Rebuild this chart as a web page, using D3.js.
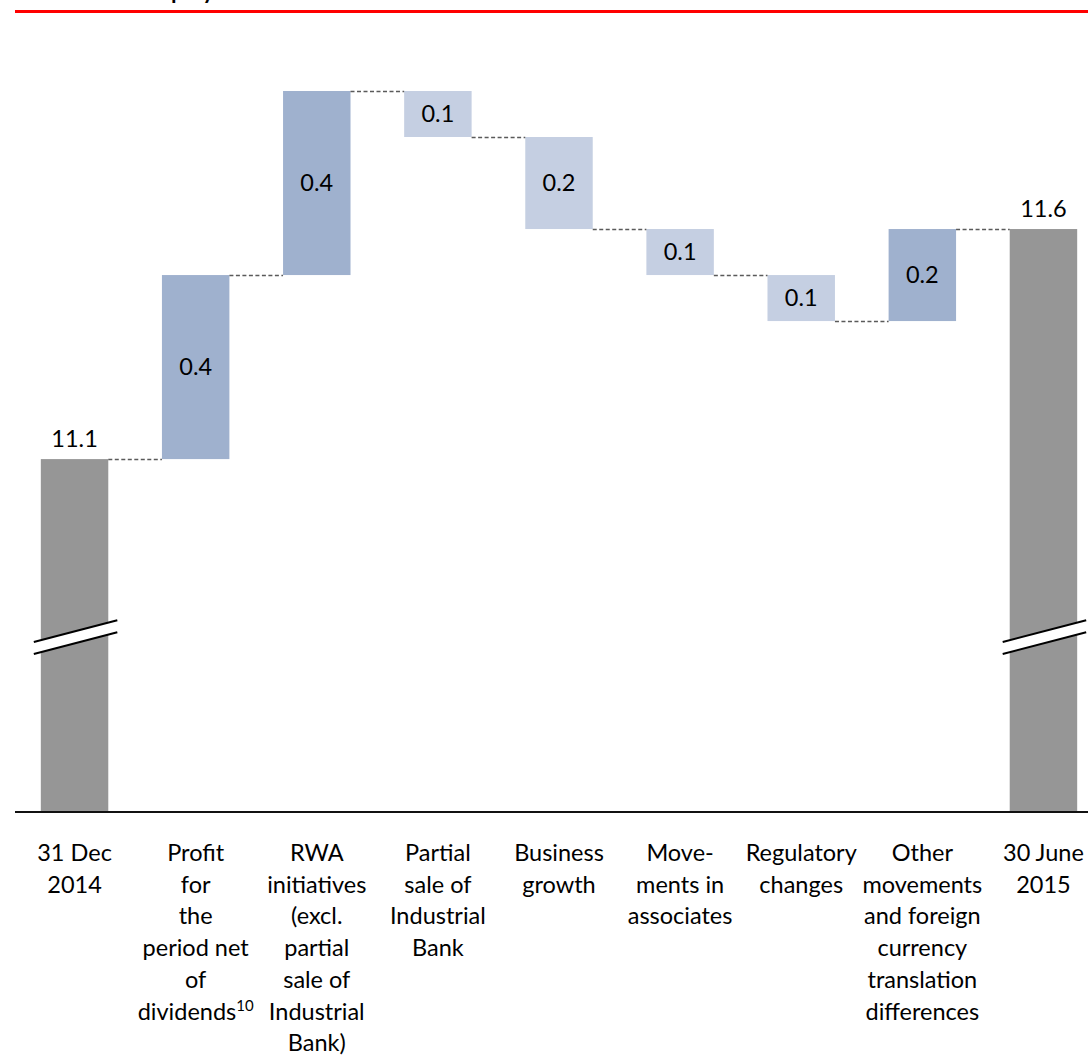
<!DOCTYPE html>
<html>
<head>
<meta charset="utf-8">
<script src="https://cdn.jsdelivr.net/npm/d3@7"></script>
<style>
  html, body { margin: 0; padding: 0; background: #fff; }
  svg { display: block; }
  text { font-family: Lato, "Open Sans", sans-serif; fill: #000; }
</style>
</head>
<body>
<svg id="chart" width="1088" height="1056"></svg>
<script>
// ---- data ----
const categories = ["31 Dec 2014", "Profit for the period net of dividends", "RWA initiatives", "Partial sale of Industrial Bank", "Business growth", "Movements in associates", "Regulatory changes", "Other movements", "30 June 2015"];
const categoryLines = [
  ["31 Dec", "2014"],
  ["Profit", "for", "the", "period net", "of", "dividends|10"],
  ["RWA", "initiatives", "(excl.", "partial", "sale of", "Industrial", "Bank)"],
  ["Partial", "sale of", "Industrial", "Bank"],
  ["Business", "growth"],
  ["Move-", "ments in", "associates"],
  ["Regulatory", "changes"],
  ["Other", "movements", "and foreign", "currency", "translation", "differences"],
  ["30 June", "2015"]
];
const values = [11.1, 0.4, 0.4, -0.1, -0.2, -0.1, -0.1, 0.2, 11.6];
const kinds = ["total", "up", "up", "down", "down", "down", "down", "up", "total"];
const valueLabels = ["11.1", "0.4", "0.4", "0.1", "0.2", "0.1", "0.1", "0.2", "11.6"];
const axisBreakBase = 10.333;   // value at the (broken) axis line
const breakValue = 10.7;        // where the break symbol sits on total bars
const titleText = "Common equity tier 1 ratio";

// ---- layout ----
const svg = d3.select("#chart");
const W = 1088, H = 1056;
const axisY = 812;
const colors = { total: "#969696", up: "#9fb1ce", down: "#c5cfe2" };

// build waterfall records
let running = 0;
const rows = values.map((v, i) => {
  let start, end;
  if (kinds[i] === "total") { start = axisBreakBase; end = v; running = v; }
  else { start = running; end = running + v; running = end; }
  return { i, cat: categories[i], start, end, kind: kinds[i], label: valueLabels[i] };
});

const x = d3.scaleBand().domain(categories).range([14, 1104]).paddingInner(0.443).paddingOuter(0.2215);
const yMax = d3.max(rows, r => Math.max(r.start, r.end));
const y = d3.scaleLinear().domain([axisBreakBase, yMax]).range([axisY, 91]);

// title (cut off at the top of the page, as in the source) and red rule
svg.append("text").attr("x", 58).attr("y", -1.5)
  .style("font-weight", "bold").style("font-size", "22px").text(titleText);
svg.append("line").attr("x1", 15).attr("x2", W).attr("y1", 11.5).attr("y2", 11.5)
  .attr("stroke", "#ff0000").attr("stroke-width", 3);

// bars
svg.append("g").selectAll("rect").data(rows).join("rect")
  .attr("x", d => x(d.cat))
  .attr("width", x.bandwidth())
  .attr("y", d => y(Math.max(d.start, d.end)))
  .attr("height", d => Math.abs(y(d.start) - y(d.end)))
  .attr("fill", d => colors[d.kind]);

// connectors
svg.append("g").selectAll("line").data(rows.slice(0, -1)).join("line")
  .attr("x1", d => x(d.cat) + x.bandwidth())
  .attr("x2", d => x(categories[d.i + 1]))
  .attr("y1", d => Math.round(y(d.end)) + 0.5)
  .attr("y2", d => Math.round(y(d.end)) + 0.5)
  .attr("stroke", "#5a5a5a").attr("stroke-width", 1.3).attr("stroke-dasharray", "4,2.5");

// axis-break symbols on total bars
const brk = svg.append("g");
rows.filter(r => r.kind === "total").forEach(r => {
  const x0 = x(r.cat) - 7, x1 = x(r.cat) + x.bandwidth() + 9;
  const cx = (x0 + x1) / 2, cy = y(breakValue) - 6;
  const slope = -0.262, gap = 6;
  const yAt = (xx, off) => cy + off + slope * (xx - cx);
  brk.append("polygon")
    .attr("points", [[x0, yAt(x0, -gap)], [x1, yAt(x1, -gap)], [x1, yAt(x1, gap)], [x0, yAt(x0, gap)]].map(p => p.join(",")).join(" "))
    .attr("fill", "#fff");
  [-gap, gap].forEach(off => {
    brk.append("line").attr("x1", x0).attr("x2", x1)
      .attr("y1", yAt(x0, off)).attr("y2", yAt(x1, off))
      .attr("stroke", "#000").attr("stroke-width", 2);
  });
});

// x axis line
svg.append("line").attr("x1", 15).attr("x2", W).attr("y1", axisY).attr("y2", axisY)
  .attr("stroke", "#111").attr("stroke-width", 2);

// value labels
svg.append("g").selectAll("text").data(rows).join("text")
  .attr("x", d => x(d.cat) + x.bandwidth() / 2)
  .attr("y", d => d.kind === "total" ? y(d.end) - 12 : (y(d.start) + y(d.end)) / 2)
  .attr("dy", d => d.kind === "total" ? 0 : "0.35em")
  .attr("text-anchor", "middle")
  .style("font-size", "23.5px")
  .text(d => d.label);

// category labels
const lab = svg.append("g");
categoryLines.forEach((lines, i) => {
  const cx = x(categories[i]) + x.bandwidth() / 2;
  lines.forEach((ln, j) => {
    const t = lab.append("text").attr("x", cx).attr("y", 861 + j * 31.7)
      .attr("text-anchor", "middle").style("font-size", "23.5px");
    const parts = ln.split("|");
    t.append("tspan").text(parts[0]);
    if (parts[1]) t.append("tspan").attr("dy", -9).style("font-size", "15px").text(parts[1]);
  });
});
</script>
</body>
</html>
